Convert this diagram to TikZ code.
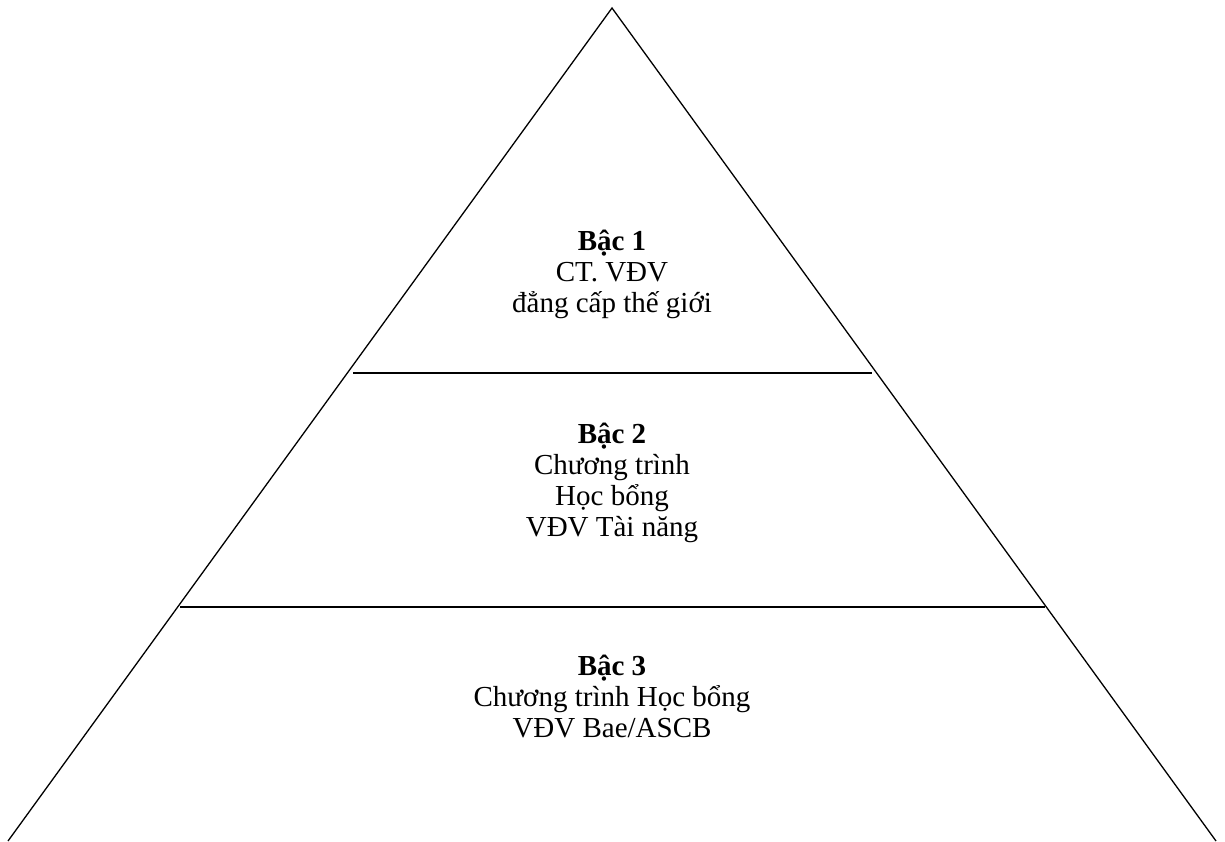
\documentclass[tikz,border=0pt]{standalone}
\usepackage{fontspec}
\setmainfont{Liberation Serif}
\begin{document}
\begin{tikzpicture}[x=1pt,y=-1pt,
  edge/.style={line width=1.3pt},
  tier/.style={line width=1.6pt},
  label/.style={align=center,font=\fontsize{29}{31}\selectfont,inner sep=0pt}]
\useasboundingbox (0,0) rectangle (1225,841);
\coordinate (apex) at (612,8);
\coordinate (bl) at (8,841);
\coordinate (br) at (1216,841);
\draw[edge] (bl) -- (apex) -- (br);
\coordinate (t1l) at (353,373);
\coordinate (t1r) at (872,373);
\coordinate (t2l) at (180,607);
\coordinate (t2r) at (1045,607);
\draw[tier] (t1l) -- (t1r);
\draw[tier] (t2l) -- (t2r);
\node[label] (b1) at (612,274) {\textbf{Bậc 1}\\CT. VĐV\\đẳng cấp thế giới};
\node[label] (b2) at (612,483) {\textbf{Bậc 2}\\Chương trình\\Học bổng\\VĐV Tài năng};
\node[label] (b3) at (612,696) {\textbf{Bậc 3}\\Chương trình Học bổng\\VĐV Bae/ASCB};
\end{tikzpicture}
\end{document}
